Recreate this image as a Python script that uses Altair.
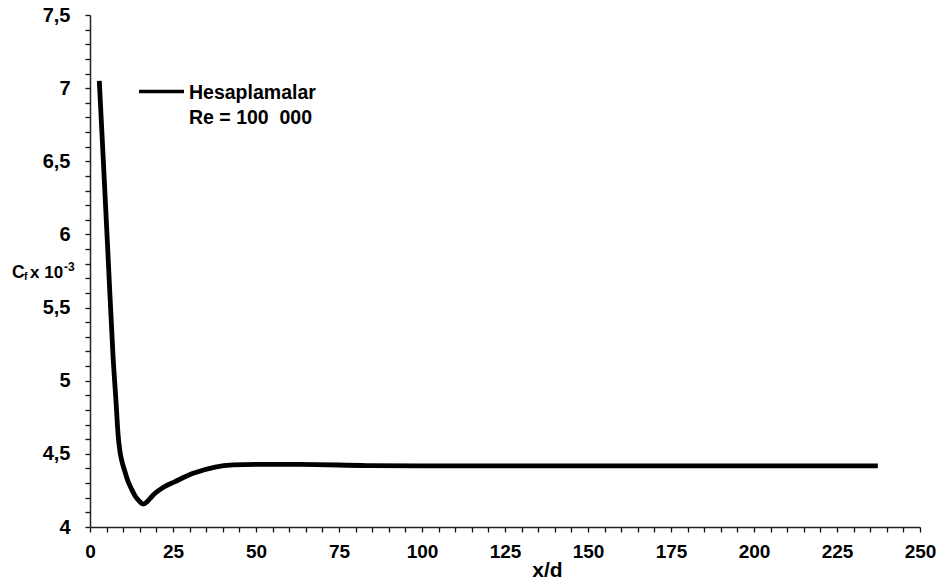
import altair as alt
import pandas as pd

# Skin-friction coefficient along the pipe, Re = 100 000
x_d = [2.8, 4.0, 5.5, 7.0, 7.8, 8.5, 9.0, 9.5, 10.5, 11.5, 12.5, 13.6, 14.8,
       16.1, 17.3, 18.5, 19.6, 22.0, 25.6, 31.1, 37.7, 43.1, 50.2, 63.3,
       83.3, 100.0, 150.0, 200.0, 237.3]
cf = [7.05, 6.51, 5.825, 5.14, 4.87, 4.62, 4.52, 4.46, 4.38, 4.31, 4.26, 4.212,
      4.178, 4.157, 4.175, 4.205, 4.23, 4.27, 4.31, 4.367, 4.41, 4.424, 4.428,
      4.428, 4.42, 4.418, 4.418, 4.418, 4.418]

x_ticks = list(range(0, 251, 5))
y_ticks = [round(4 + 0.1 * i, 1) for i in range(36)]

FONT = "Liberation Sans"

df = pd.DataFrame({"x_d": x_d, "cf": cf})

line = alt.Chart(df).mark_line(color="black", strokeWidth=4.8, interpolate="monotone").encode(
    x=alt.X(
        "x_d:Q",
        scale=alt.Scale(domain=[0, 250], nice=False, zero=False),
        axis=alt.Axis(
            values=x_ticks,
            labelExpr="datum.value % 25 == 0 ? datum.label : ''",
            title="x/d",
            titleFontSize=21,
            titleX=457,
            titleY=49,
            titleBaseline="alphabetic",
            titleAnchor="start",
            titleAlign="center",
            labelPadding=10,
            labelFontSize=19,
            tickSize=5,
        ),
    ),
    y=alt.Y(
        "cf:Q",
        scale=alt.Scale(domain=[4, 7.5], nice=False, zero=False),
        axis=alt.Axis(
            values=y_ticks,
            labelExpr="abs(datum.value * 2 - round(datum.value * 2)) < 0.001 ? replace(toString(round(datum.value * 10) / 10), '.', ',') : ''",
            title=None,
            labelPadding=15,
            labelFontSize=20,
            tickSize=5,
        ),
    ),
)

# y-axis caption: C_f x 10^-3 built from pieces
def piece(text, x, y, size):
    return alt.Chart(pd.DataFrame({"t": [text]})).mark_text(
        font=FONT, fontWeight="bold", fontSize=size, align="left",
        baseline="alphabetic", color="black",
    ).encode(text="t:N", x=alt.value(x), y=alt.value(y))

caption = (
    piece("C", -78, 263, 17.5)
    + piece("f", -66, 265, 10.5)
    + piece("x 10", -60, 263, 17)
    + piece("-3", -26, 256, 12)
)

# legend entry
legend_line = alt.Chart(pd.DataFrame({"k": [0]})).mark_rule(color="black", strokeWidth=3.5).encode(
    x=alt.value(49), x2=alt.value(94), y=alt.value(76.5)
)
legend_text = (
    piece("Hesaplamalar", 99, 84, 19.5)
    + piece("Re = 100\u00a0 000", 99, 109, 19.5)
)

chart = alt.layer(line, caption, legend_line, legend_text).properties(
    width=830,
    height=512,
    autosize=alt.AutoSizeParams(type="none"),
    padding={"left": 90, "top": 15, "right": 20, "bottom": 56},
).configure_view(stroke=None).configure_axis(
    grid=False,
    domainColor="#222",
    domainWidth=1.5,
    tickColor="#111",
    tickWidth=1.3,
    labelFont=FONT,
    labelFontWeight="bold",
    labelColor="black",
    labelOverlap=False,
    labelFlush=False,
    titleFont=FONT,
    titleFontWeight="bold",
    titleColor="black",
)

chart.save("out.html", embed_options={"renderer": "svg", "actions": False})
